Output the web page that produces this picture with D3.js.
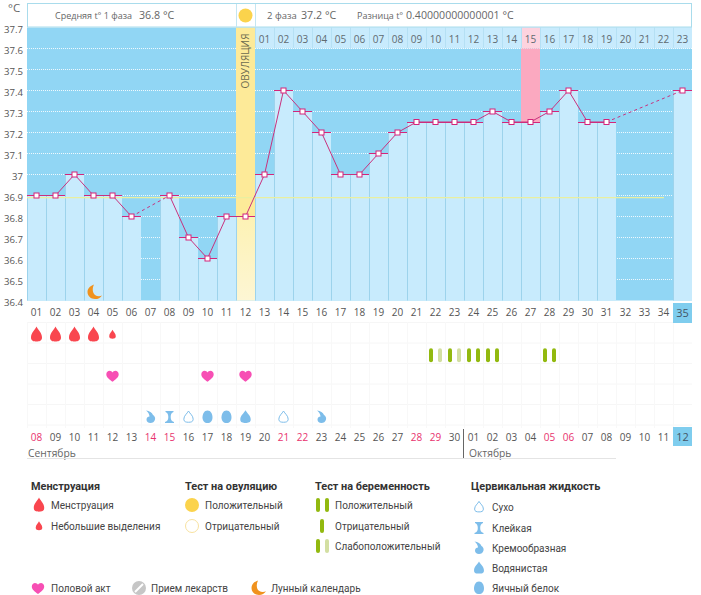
<!DOCTYPE html>
<html>
<head>
<meta charset="utf-8">
<script src="https://cdn.jsdelivr.net/npm/d3@7"></script>
<style>
html, body { margin: 0; padding: 0; background: #fff; }
svg { display: block; }
text { font-family: "Open Sans", "Noto Sans", sans-serif; fill: #555; }
.tick text { font-size: 10px; }
.yaxis .tick text { font-size: 9.6px; }
.leg text { font-family: Roboto, sans-serif; }
</style>
</head>
<body>
<div id="chart"></div>
<script>
// values
var cycleDays = ["01","02","03","04","05","06","07","08","09","10","11","12","13","14","15","16","17","18","19","20","21","22","23","24","25","26","27","28","29","30","31","32","33","34","35"];
var dates = ["08","09","10","11","12","13","14","15","16","17","18","19","20","21","22","23","24","25","26","27","28","29","30","01","02","03","04","05","06","07","08","09","10","11","12"];
var weekendCols = [1,7,8,14,15,21,22,28,29];
var phase2Days = ["01","02","03","04","05","06","07","08","09","10","11","12","13","14","15","16","17","18","19","20","21","22","23"];
var temps = [36.9,36.9,37.0,36.9,36.9,36.8,null,36.9,36.7,36.6,36.8,36.8,37.0,37.4,37.3,37.2,37.0,37.0,37.1,37.2,37.25,37.25,37.25,37.25,37.3,37.25,37.25,37.3,37.4,37.25,37.25,null,null,null,37.4];
var tempTicks = [37.7,37.6,37.5,37.4,37.3,37.2,37.1,37,36.9,36.8,36.7,36.6,36.5,36.4];
var gridTemps = [37.6,37.5,37.4,37.3,37.2,37.1,37,36.9,36.8,36.7,36.6,36.5];
var coverTemp = 36.89;
var ovulationCol = 12;
var highlightCol = 27;
var moonCols = [4];
var rowNames = ["menses","pregnancy","sex","other","fluid"];
var mensesCols = [1,2,3,4];
var spottingCols = [5];
var sexCols = [5,10,12];
var pregnancyPositive = [24,25,28];
var pregnancyWeak = [22,23];
var fluidCreamy = [7,16];
var fluidSticky = [8];
var fluidDry = [9,14];
var fluidEgg = [10,11];
var fluidWatery = [12];

var W = 701, H = 595;
var svg = d3.select("#chart").append("svg").attr("width", W).attr("height", H);

var x = d3.scaleBand().domain(d3.range(1, 36)).range([27, 692]);
var y = d3.scaleLinear().domain([36.4, 37.7]).range([300.5, 27.5]);
var rowY = d3.scalePoint().domain(rowNames).range([334.5, 417]);
var cx = function (c) { return x(c) + x.bandwidth() / 2; };
var colW = x.bandwidth();

var BLUE = "#91d6f4", PALE = "#c8ebfd", DIV = "#9dd3ec", PINK = "#d4257a", GREEN = "#92b90f", WEAK = "#d3dfa2";
var RED = "#f9464f", HEART = "#f74fb4", DROP = "#7dbdea", ORANGE = "#f0921e";

// ---------- shapes
function dropPath(s, t) {
	t = t || s;
	return "M0," + (-8 * t) + "C" + (1.5 * s) + "," + (-4.5 * t) + " " + (5.5 * s) + "," + (-2 * t) + " " + (5.5 * s) + "," + (3 * t) +
		"C" + (5.5 * s) + "," + (6.5 * t) + " " + (2.8 * s) + "," + (7 * t) + " 0," + (7 * t) +
		"C" + (-2.8 * s) + "," + (7 * t) + " " + (-5.5 * s) + "," + (6.5 * t) + " " + (-5.5 * s) + "," + (3 * t) +
		"C" + (-5.5 * s) + "," + (-2 * t) + " " + (-1.5 * s) + "," + (-4.5 * t) + " 0," + (-8 * t) + "Z";
}
var eggPath = "M0,-6.5C3.3,-6.5 5,-3 5,0.5C5,4 3,6 0,6C-3,6 -5,4 -5,0.5C-5,-3 -3.3,-6.5 0,-6.5Z";
var creamPath = "M-4.5,-6.5C-1,-6 1.5,-4.5 2.5,-2C4,-1 5,0.5 4.5,2.5C4,5 2,6 0,6C-2.5,6 -4,4.5 -4,2.5C-4,0.5 -2.5,-0.5 -1,-0.5C-1,-2.5 -2.5,-5 -4.5,-6.5Z";
var stickyPath = "M-4,-6L4,-6L4,-5C2,-4.5 1.2,-2.5 1.2,0C1.2,2.5 2,4.5 4.5,5L4.5,6L-4.5,6L-4.5,5C-2,4.5 -1.2,2.5 -1.2,0C-1.2,-2.5 -2,-4.5 -4,-5Z";
var heartPath = "M0,6C-3,3.7 -6.2,1.8 -6.2,-1.5C-6.2,-3.8 -4.5,-5 -3,-5C-1.6,-5 -0.6,-4.3 0,-3.2C0.6,-4.3 1.6,-5 3,-5C4.5,-5 6.2,-3.8 6.2,-1.5C6.2,1.8 3,3.7 0,6Z";
var moonPath = "M-1,-7.5C-5.5,-6 -7.5,-3 -7.5,0C-7.5,4.2 -4,7 0,7C3,7 5.5,5.6 7,3.3C4.7,4.5 2,4.2 0,2.8C-2.5,1 -3,-3.7 -1,-7.5Z";

function put(g, path, px, py, fill, stroke) {
	return g.append("path").attr("d", path).attr("transform", "translate(" + px + "," + py + ")")
		.attr("fill", fill).attr("stroke", stroke || "none");
}
function label(g, px, py, str, size, color, weight) {
	return g.append("text").attr("x", px).attr("y", py).attr("dy", "0.35em")
		.style("font-size", size + "px").style("fill", color || "#555").style("font-weight", weight || 400).text(str);
}

// ---------- plot background
var plot = svg.append("g");
plot.append("rect").attr("x", 27).attr("y", y(37.7)).attr("width", 665).attr("height", y(36.4) - y(37.7)).attr("fill", BLUE);

// header strip with the phase 2 day numbers
var firstP2 = ovulationCol + 1;
var p2 = plot.selectAll(".p2").data(phase2Days).enter().append("g");
p2.append("rect")
	.attr("x", function (d, i) { return x(firstP2 + i); })
	.attr("y", y(37.7)).attr("width", colW).attr("height", y(37.6) - y(37.7))
	.attr("fill", function (d, i) { return firstP2 + i == highlightCol ? "#fdd3df" : PALE; });
p2.append("line")
	.attr("x1", function (d, i) { return x(firstP2 + i) + 0.5; }).attr("x2", function (d, i) { return x(firstP2 + i) + 0.5; })
	.attr("y1", y(37.7)).attr("y2", y(37.6)).attr("stroke", "#b5e0f4");
p2.append("text")
	.attr("x", function (d, i) { return cx(firstP2 + i); }).attr("y", y(37.65) + 1.5).attr("dy", "0.35em")
	.attr("text-anchor", "middle").style("font-size", "10px").style("fill", "#5f6a70").text(function (d) { return d; });

// white dotted grid
plot.selectAll(".grid").data(gridTemps).enter().append("line")
	.attr("x1", 27).attr("x2", 692)
	.attr("y1", function (d) { return y(d); }).attr("y2", function (d) { return y(d); })
	.attr("stroke", "#fff").attr("stroke-dasharray", "1 1").attr("opacity", 0.85);

// ovulation and highlighted columns above the value
plot.append("rect").attr("x", x(ovulationCol)).attr("y", y(37.7)).attr("width", colW)
	.attr("height", y(temps[ovulationCol - 1]) - y(37.7)).attr("fill", "#fdea98");
plot.append("rect").attr("x", x(highlightCol)).attr("y", y(37.6)).attr("width", colW)
	.attr("height", y(temps[highlightCol - 1]) - y(37.6)).attr("fill", "#fba9c0");

// bars
var defs = svg.append("defs");
var grad = defs.append("linearGradient").attr("id", "ovu").attr("x1", 0).attr("x2", 0).attr("y1", 0).attr("y2", 1);
grad.append("stop").attr("offset", 0).attr("stop-color", "#fdf2b4");
grad.append("stop").attr("offset", 1).attr("stop-color", "#fdf6d4");

var cols = temps.map(function (t, i) { return { col: i + 1, t: t }; });
var valued = cols.filter(function (d) { return d.t != null; });

plot.selectAll(".bar").data(valued).enter().append("rect")
	.attr("x", function (d) { return x(d.col); })
	.attr("y", function (d) { return y(d.t); })
	.attr("width", colW)
	.attr("height", function (d) { return y(36.4) - y(d.t); })
	.attr("fill", function (d) { return d.col == ovulationCol ? "url(#ovu)" : PALE; });
plot.selectAll(".div").data(valued).enter().append("line")
	.attr("x1", function (d) { return x(d.col) + 0.5; }).attr("x2", function (d) { return x(d.col) + 0.5; })
	.attr("y1", function (d) { return y(d.t); }).attr("y2", y(36.4))
	.attr("stroke", DIV);

// cover line
plot.append("line").attr("x1", 27).attr("x2", x(34) + 10)
	.attr("y1", y(coverTemp)).attr("y2", y(coverTemp))
	.attr("stroke", "#e9efa0").attr("stroke-width", 1.4);

// ---------- temperature line
plot.selectAll(".cap").data(valued).enter().append("line")
	.attr("x1", function (d) { return x(d.col); }).attr("x2", function (d) { return x(d.col) + colW; })
	.attr("y1", function (d) { return y(d.t); }).attr("y2", function (d) { return y(d.t); })
	.attr("stroke", PINK).attr("shape-rendering", "crispEdges");

var line = d3.line().x(function (d) { return cx(d.col); }).y(function (d) { return y(d.t); });
d3.pairs(valued).forEach(function (p) {
	plot.append("path").attr("d", line(p)).attr("fill", "none").attr("stroke", "#c8327e")
		.attr("stroke-dasharray", p[1].col - p[0].col > 1 ? "3 3" : null);
});

plot.selectAll(".pt").data(valued).enter().append("rect")
	.attr("x", function (d) { return cx(d.col) - 2.5; })
	.attr("y", function (d) { return y(d.t) - 2.5; })
	.attr("width", 5).attr("height", 5)
	.attr("fill", "#fff").attr("stroke", PINK);

moonCols.forEach(function (c) { put(plot, moonPath, cx(c) + 1.5, y(36.44), ORANGE); });

// ---------- top info bar
var head = svg.append("g");
head.append("rect").attr("x", 27.5).attr("y", 3.5).attr("width", 664).attr("height", 23.5).attr("fill", "#fff").attr("stroke", "#a9dcec");
head.append("line").attr("x1", x(ovulationCol) + 0.5).attr("x2", x(ovulationCol) + 0.5).attr("y1", 4).attr("y2", 27).attr("stroke", "#c4e6f2");
head.append("line").attr("x1", x(ovulationCol) + colW + 0.5).attr("x2", x(ovulationCol) + colW + 0.5).attr("y1", 4).attr("y2", 27).attr("stroke", "#c4e6f2");
head.append("circle").attr("cx", cx(ovulationCol)).attr("cy", 15.5).attr("r", 7).attr("fill", "#fbd34c");
label(head, 55, 15.5, "Средняя t° 1 фаза", 9, "#666");
label(head, 139, 15.5, "36.8 °C", 10.7, "#666");
label(head, 267, 15.5, "2 фаза", 9.5, "#666");
label(head, 301, 15.5, "37.2 °C", 10.7, "#666");
label(head, 357, 15.5, "Разница t°", 9, "#666");
label(head, 406, 15.5, "0.40000000000001 °C", 10.6, "#666");
label(head, 8, 8, "°C", 11.5, "#666");

svg.append("text").attr("transform", "translate(" + cx(ovulationCol) + ",61) rotate(-90)")
	.attr("text-anchor", "middle").attr("dy", "0.35em")
	.style("font-size", "10px").style("fill", "#6b6a50").text("ОВУЛЯЦИЯ");

// ---------- axes
var yAxis = d3.axisLeft(y).tickValues(tempTicks).tickSize(0).tickPadding(4).tickFormat(function (d) { return String(d); });
svg.append("g").attr("class", "yaxis").attr("transform", "translate(27,2)").call(yAxis).call(function (g) { g.select(".domain").remove(); });

// ---------- events grid
var ev = svg.append("g");
var gridTop = 322, gridBottom = 428;
d3.range(gridTop, gridBottom, 20.5).forEach(function (gy) {
	ev.append("line").attr("x1", 27).attr("x2", 692).attr("y1", gy + 0.5).attr("y2", gy + 0.5).attr("stroke", "#f6f6f6");
});
x.domain().forEach(function (c) {
	ev.append("line").attr("x1", x(c) + 0.5).attr("x2", x(c) + 0.5).attr("y1", gridTop).attr("y2", gridBottom).attr("stroke", "#f8f8f8");
});

// highlighted last-day labels
ev.append("rect").attr("x", x(35)).attr("y", 303).attr("width", colW).attr("height", 20).attr("fill", "#7fcdee");
ev.append("rect").attr("x", x(35)).attr("y", 427).attr("width", colW).attr("height", 19).attr("fill", "#7fcdee");

var topAxis = d3.axisBottom(x).tickSize(0).tickPadding(0).tickFormat(function (c) { return cycleDays[c - 1]; });
svg.append("g").attr("class", "days").attr("transform", "translate(0,309)").call(topAxis).call(function (g) { g.select(".domain").remove(); });
var dateAxis = d3.axisBottom(x).tickSize(0).tickPadding(0).tickFormat(function (c) { return dates[c - 1]; });
svg.append("g").attr("class", "dates").attr("transform", "translate(0,433.5)").call(dateAxis).call(function (g) { g.select(".domain").remove(); });
svg.selectAll(".dates .tick text").style("fill", function (c) { return weekendCols.indexOf(c) >= 0 ? "#e8326e" : "#555"; });
svg.selectAll(".days .tick text, .dates .tick text").filter(function (c) { return c == 35; }).style("font-size", "11px").style("fill", "#456");

// month footer
label(ev, 28, 453, "Сентябрь", 10.3, "#666");
label(ev, 469, 453, "Октябрь", 10.3, "#666");
ev.append("line").attr("x1", x(24) - 0.5).attr("x2", x(24) - 0.5).attr("y1", 429).attr("y2", 458).attr("stroke", "#666");
ev.append("line").attr("x1", 27).attr("x2", x(32)).attr("y1", 458.5).attr("y2", 458.5).attr("stroke", "#e4e4e4");

// event marks
mensesCols.forEach(function (c) { put(ev, dropPath(1), cx(c), rowY("menses"), RED); });
spottingCols.forEach(function (c) { put(ev, dropPath(0.6), cx(c), rowY("menses"), RED); });
sexCols.forEach(function (c) { put(ev, heartPath, cx(c), rowY("sex"), HEART); });
function testPair(g, px, py, second) {
	[[-4.5, GREEN], [4.5, second]].forEach(function (b) {
		if (!b[1]) return;
		g.append("rect").attr("x", px + b[0] - 2).attr("y", py - 7).attr("width", 4).attr("height", 14).attr("rx", 2).attr("fill", b[1]);
	});
}
pregnancyPositive.forEach(function (c) { testPair(ev, cx(c), rowY("pregnancy"), GREEN); });
pregnancyWeak.forEach(function (c) { testPair(ev, cx(c), rowY("pregnancy"), WEAK); });
fluidCreamy.forEach(function (c) { put(ev, creamPath, cx(c), rowY("fluid"), DROP); });
fluidSticky.forEach(function (c) { put(ev, stickyPath, cx(c), rowY("fluid"), DROP); });
fluidDry.forEach(function (c) { put(ev, dropPath(0.85, 0.75), cx(c), rowY("fluid"), "#fff", DROP); });
fluidEgg.forEach(function (c) { put(ev, eggPath, cx(c), rowY("fluid"), DROP); });
fluidWatery.forEach(function (c) { put(ev, dropPath(0.95, 0.85), cx(c), rowY("fluid"), DROP); });

// ---------- legend
var leg = svg.append("g").attr("class", "leg");
var LT = "#444", TS = 10, HS = 10.9;
label(leg, 31, 486, "Менструация", HS, "#333", 700);
put(leg, dropPath(0.95), 39, 505, RED);
label(leg, 51, 505, "Менструация", TS, LT);
put(leg, dropPath(0.6), 39, 526, RED);
label(leg, 51, 526, "Небольшие выделения", TS, LT);

label(leg, 185, 486, "Тест на овуляцию", HS, "#333", 700);
leg.append("circle").attr("cx", 192).attr("cy", 505).attr("r", 7).attr("fill", "#fbd34c");
label(leg, 205, 505, "Положительный", TS, LT);
leg.append("circle").attr("cx", 192).attr("cy", 526).attr("r", 6.5).attr("fill", "#fff").attr("stroke", "#f8e2a0");
label(leg, 205, 526, "Отрицательный", TS, LT);

label(leg, 315, 486, "Тест на беременность", HS, "#333", 700);
testPair(leg, 322.5, 505, GREEN);
label(leg, 335, 505, "Положительный", TS, LT);
testPair(leg, 326.5, 526, null);
label(leg, 335, 526, "Отрицательный", TS, LT);
testPair(leg, 322.5, 546, WEAK);
label(leg, 335, 546, "Слабоположительный", TS, LT);

label(leg, 471, 486, "Цервикальная жидкость", HS, "#333", 700);
put(leg, dropPath(0.8, 0.7), 479, 507, "#fff", DROP);
label(leg, 492, 507, "Сухо", TS, LT);
put(leg, stickyPath, 479, 528, DROP);
label(leg, 492, 528, "Клейкая", TS, LT);
put(leg, creamPath, 479, 548, DROP);
label(leg, 492, 548, "Кремообразная", TS, LT);
put(leg, dropPath(0.9, 0.8), 479, 568, DROP);
label(leg, 492, 568, "Водянистая", TS, LT);
put(leg, eggPath, 479, 588, DROP);
label(leg, 492, 588, "Яичный белок", TS, LT);

put(leg, heartPath, 38, 588, HEART);
label(leg, 51, 588, "Половой акт", TS, LT);
leg.append("circle").attr("cx", 139).attr("cy", 588).attr("r", 7).attr("fill", "#c6c6c6");
leg.append("line").attr("x1", 135).attr("y1", 592).attr("x2", 143).attr("y2", 584).attr("stroke", "#fff").attr("stroke-width", 2);
label(leg, 151, 588, "Прием лекарств", TS, LT);
put(leg, moonPath, 259, 588, ORANGE);
label(leg, 271, 588, "Лунный календарь", TS, LT);
</script>
</body>
</html>
